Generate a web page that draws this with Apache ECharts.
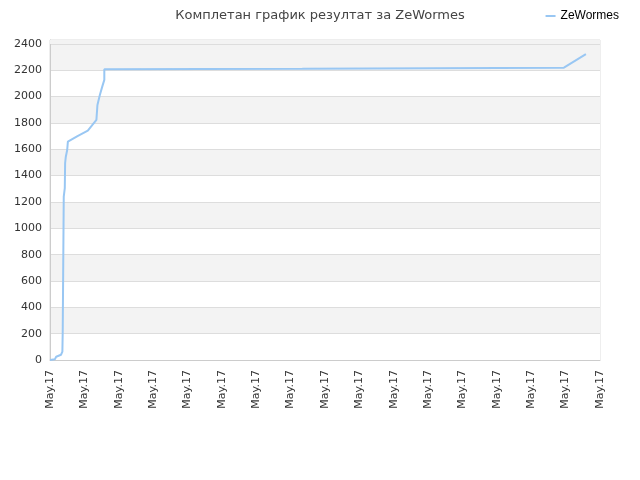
<!DOCTYPE html>
<html>
<head>
<meta charset="utf-8">
<script src="https://cdn.jsdelivr.net/npm/echarts@6/dist/echarts.min.js"></script>
<style>
html,body{margin:0;padding:0;background:#fff;}
#main{width:640px;height:480px;}
</style>
</head>
<body>
<div id="main"></div>
<script>
//x轴刻度标签
var tickLabel = 'May.17';
//时间点（刻度单位）
var steps = [0, 1.4, 1.8, 2.0, 3.2, 3.6, 3.7, 4.0, 4.0, 4.3, 4.4, 4.6, 5.0, 5.2, 5.7, 8.0, 11.0, 13.5, 13.8, 14.5, 15.2, 15.8, 15.8, 73.4, 73.5, 149.5, 155.9];
//累计得分
var scores = [0, 5, 25, 33, 40, 63, 215, 230, 1240, 1305, 1496, 1544, 1595, 1658, 1671, 1700, 1741, 1823, 1937, 2013, 2076, 2127, 2208, 2212, 2220, 2220, 2322];

var seriesData = [];
for (var i = 0; i < steps.length; i++) {
    seriesData.push([steps[i], scores[i]]);
}

var myChart = echarts.init(document.getElementById('main'));
var option = {
    animation: false,
    title: {
        text: 'Комплетан график резултат за ZeWormes',
        left: 'center',
        top: 4,
        textStyle: {
            fontFamily: 'DejaVu Sans',
            fontSize: 13,
            fontWeight: 'normal',
            color: '#444'
        }
    },
    legend: {
        right: 16,
        top: 5,
        icon: 'rect',
        itemWidth: 10,
        itemHeight: 2,
        itemGap: 6,
        textStyle: {fontFamily: 'Liberation Sans', fontSize: 12, color: '#000'},
        data: ['ZeWormes']
    },
    grid: {
        left: 50,
        right: 40,
        top: 40,
        bottom: 120,
        show: true,
        borderColor: '#ddd',
        borderWidth: 1
    },
    xAxis: {
        type: 'value',
        min: 0,
        max: 160,
        interval: 10,
        axisLine: {show: true, lineStyle: {color: '#ccc'}},
        axisTick: {show: false},
        splitLine: {show: false},
        axisLabel: {
            rotate: 90,
            fontFamily: 'DejaVu Sans',
            fontSize: 11,
            color: '#333',
            margin: 10,
            showMaxLabel: true,
            formatter: function () { return tickLabel; }
        }
    },
    yAxis: {
        type: 'value',
        min: 0,
        max: 2430,
        interval: 200,
        axisLine: {show: true, lineStyle: {color: '#ccc'}},
        axisTick: {show: false},
        splitLine: {show: true, lineStyle: {color: '#ddd'}},
        splitArea: {show: true, areaStyle: {color: ['#fff', '#f3f3f3']}},
        axisLabel: {
            fontFamily: 'DejaVu Sans',
            fontSize: 11,
            color: '#333',
            margin: 8,
            formatter: function (v) { return v % 200 === 0 ? v : ''; }
        }
    },
    series: [{
        name: 'ZeWormes',
        type: 'line',
        data: seriesData,
        showSymbol: false,
        symbol: 'none',
        color: '#99c7f3',
        lineStyle: {width: 2, color: '#99c7f3'},
        markArea: {
            silent: true,
            itemStyle: {color: '#f3f3f3'},
            data: [[{yAxis: 2400}, {yAxis: 2430}]]
        }
    }]
};
myChart.setOption(option);
</script>
</body>
</html>
